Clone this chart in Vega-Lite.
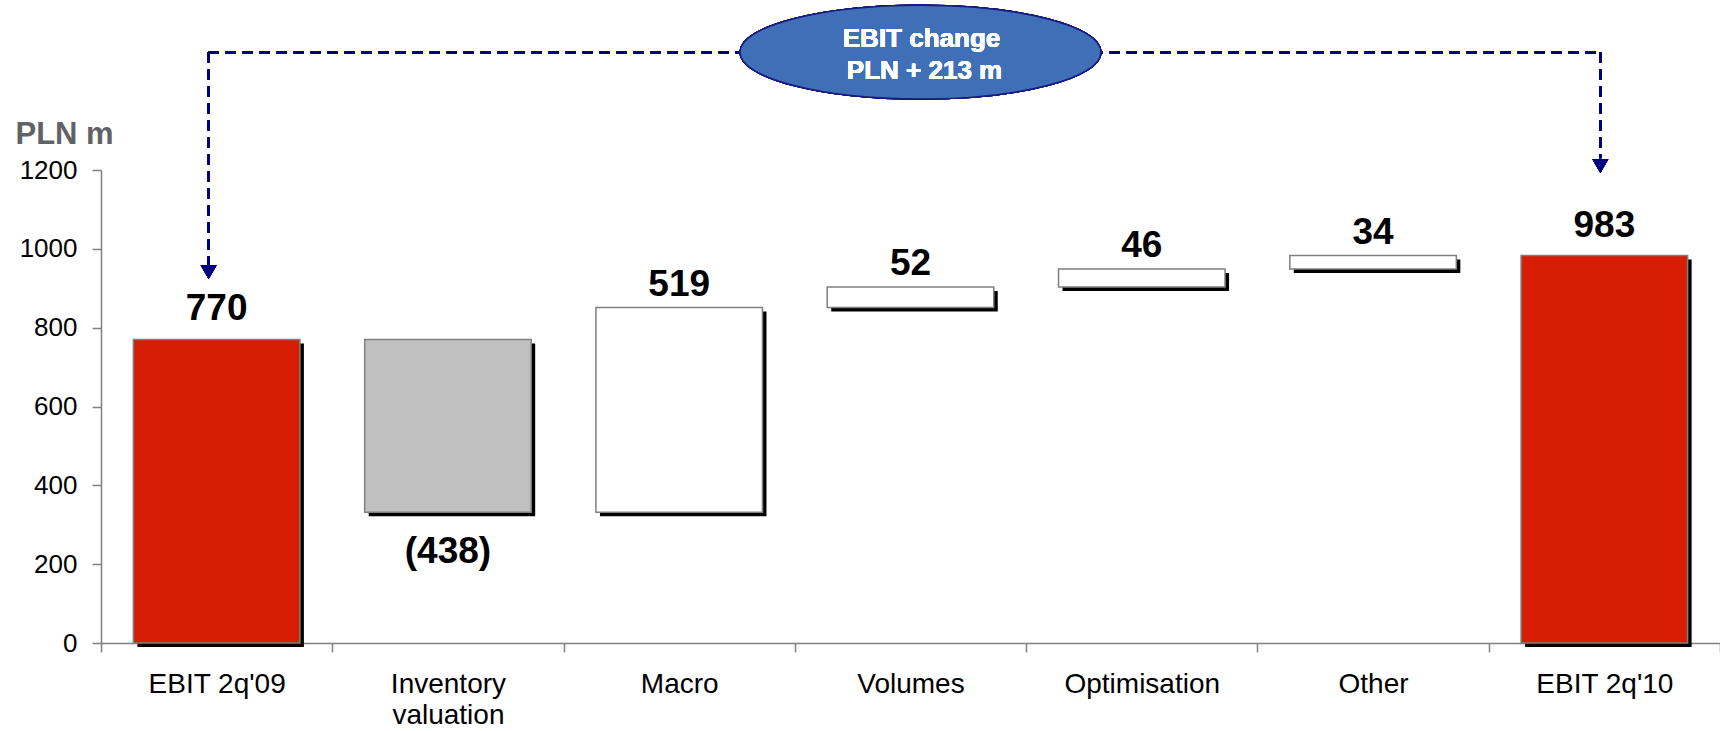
{
  "$schema": "https://vega.github.io/schema/vega-lite/v6.json",
  "width": 1619,
  "height": 473,
  "autosize": {"type": "none"},
  "padding": {"left": 101, "top": 170, "right": 0, "bottom": 88},
  "background": "white",
  "config": {"view": {"stroke": null}, "font": "Liberation Sans"},
  "data": {"values": [
    {"category": "EBIT 2q'09", "lo": 0, "hi": 770, "kind": "total", "label": "770"},
    {"category": "Inventory valuation", "lo": 332, "hi": 770, "kind": "decrease", "label": "(438)"},
    {"category": "Macro", "lo": 332, "hi": 851, "kind": "increase", "label": "519"},
    {"category": "Volumes", "lo": 851, "hi": 903, "kind": "increase", "label": "52"},
    {"category": "Optimisation", "lo": 903, "hi": 949, "kind": "increase", "label": "46"},
    {"category": "Other", "lo": 949, "hi": 983, "kind": "increase", "label": "34"},
    {"category": "EBIT 2q'10", "lo": 0, "hi": 983, "kind": "total", "label": "983"}
  ]},
  "layer": [
    {
      "mark": {"type": "bar", "color": "black", "width": {"band": 0.72}, "xOffset": 4, "yOffset": 4, "y2Offset": 4},
      "encoding": {
        "x": {"field": "category", "type": "nominal", "sort": null,
          "scale": {"domain": ["EBIT 2q'09", "Inventory valuation", "Macro", "Volumes", "Optimisation", "Other", "EBIT 2q'10"], "paddingInner": 0, "paddingOuter": 0},
          "axis": {"title": null, "labelAngle": 0, "labelFontSize": 28, "labelColor": "black", "labelPadding": 18, "tickSize": 9, "tickBand": "extent",
            "domainColor": "#808080", "tickColor": "#808080", "domainWidth": 1.5, "tickWidth": 1.5, "labelLineHeight": 31, "labelOverlap": false, "labelFlush": false, "labelLimit": 0,
            "labelExpr": "datum.value == 'Inventory valuation' ? ['Inventory', 'valuation'] : datum.value"}},
        "y": {"field": "lo", "type": "quantitative", "scale": {"domain": [0, 1200], "nice": false},
          "axis": {"title": "PLN m", "titleAngle": 0, "titleAlign": "left", "titleBaseline": "alphabetic", "titleX": -86, "titleY": -27,
            "titleFontSize": 31, "titleFontWeight": "bold", "titleColor": "#5F6366", "format": "d",
            "values": [0, 200, 400, 600, 800, 1000, 1200], "labelFontSize": 26, "labelColor": "black", "labelPadding": 15, "tickSize": 9, "grid": false,
            "domainColor": "#808080", "tickColor": "#808080", "domainWidth": 1.5, "tickWidth": 1.5}},
        "y2": {"field": "hi"}
      }
    },
    {
      "mark": {"type": "bar", "width": {"band": 0.72}, "stroke": "#7F7F7F", "strokeWidth": 1.5},
      "encoding": {
        "x": {"field": "category", "type": "nominal", "sort": null},
        "y": {"field": "lo", "type": "quantitative"},
        "y2": {"field": "hi"},
        "fill": {"field": "kind", "type": "nominal", "legend": null,
          "scale": {"domain": ["total", "decrease", "increase"], "range": ["#D71E04", "#C0C0C0", "#FFFFFF"]}}
      }
    },
    {
      "transform": [{"filter": "datum.kind == 'total'"}],
      "mark": {"type": "text", "fontSize": 37, "fontWeight": "bold", "color": "black", "baseline": "alphabetic", "dy": -19},
      "encoding": {
        "x": {"field": "category", "type": "nominal", "sort": null},
        "y": {"field": "hi", "type": "quantitative"},
        "text": {"field": "label"}
      }
    },
    {
      "transform": [{"filter": "datum.kind == 'increase'"}],
      "mark": {"type": "text", "fontSize": 37, "fontWeight": "bold", "color": "black", "baseline": "alphabetic", "dy": -12},
      "encoding": {
        "x": {"field": "category", "type": "nominal", "sort": null},
        "y": {"field": "hi", "type": "quantitative"},
        "text": {"field": "label"}
      }
    },
    {
      "transform": [{"filter": "datum.kind == 'decrease'"}],
      "mark": {"type": "text", "fontSize": 37, "fontWeight": "bold", "color": "black", "baseline": "alphabetic", "dy": 51},
      "encoding": {
        "x": {"field": "category", "type": "nominal", "sort": null},
        "y": {"field": "lo", "type": "quantitative"},
        "text": {"field": "label"}
      }
    },
    {
      "mark": {"type": "rule", "color": "#000080", "strokeWidth": 2.5, "strokeDash": [10, 7], "xOffset": -8, "x2Offset": -4},
      "encoding": {
        "x": {"datum": "EBIT 2q'09", "type": "nominal"},
        "x2": {"datum": "EBIT 2q'10"},
        "y": {"datum": 1498, "type": "quantitative"}
      }
    },
    {
      "mark": {"type": "rule", "color": "#000080", "strokeWidth": 2.5, "strokeDash": [10, 7], "xOffset": -8},
      "encoding": {
        "x": {"datum": "EBIT 2q'09", "type": "nominal"},
        "y": {"datum": 1498, "type": "quantitative"},
        "y2": {"datum": 960}
      }
    },
    {
      "mark": {"type": "rule", "color": "#000080", "strokeWidth": 2.5, "strokeDash": [10, 7], "xOffset": -4},
      "encoding": {
        "x": {"datum": "EBIT 2q'10", "type": "nominal"},
        "y": {"datum": 1498, "type": "quantitative"},
        "y2": {"datum": 1230}
      }
    },
    {
      "mark": {"type": "point", "shape": "triangle-down", "size": 256, "filled": true, "color": "#000080", "opacity": 1, "xOffset": -8},
      "encoding": {
        "x": {"datum": "EBIT 2q'09", "type": "nominal"},
        "y": {"datum": 941, "type": "quantitative"}
      }
    },
    {
      "mark": {"type": "point", "shape": "triangle-down", "size": 256, "filled": true, "color": "#000080", "opacity": 1, "xOffset": -4},
      "encoding": {
        "x": {"datum": "EBIT 2q'10", "type": "nominal"},
        "y": {"datum": 1210, "type": "quantitative"}
      }
    },
    {
      "mark": {"type": "point", "shape": "M -1 0 C -1 -0.1436 -0.5523 -0.26 0 -0.26 C 0.5523 -0.26 1 -0.1436 1 0 C 1 0.1436 0.5523 0.26 0 0.26 C -0.5523 0.26 -1 0.1436 -1 0 Z",
        "size": 130321, "filled": true, "fill": "#3F70B7", "stroke": "#1A1A80", "strokeWidth": 1.5, "opacity": 1, "fillOpacity": 1, "xOffset": 10},
      "encoding": {
        "x": {"datum": "Volumes", "type": "nominal"},
        "y": {"datum": 1499, "type": "quantitative"}
      }
    },
    {
      "mark": {"type": "text", "fontSize": 26, "fontWeight": "bold", "color": "white", "baseline": "alphabetic", "xOffset": 11},
      "encoding": {
        "x": {"datum": "Volumes", "type": "nominal"},
        "y": {"datum": 1512, "type": "quantitative"},
        "text": {"value": "EBIT change"}
      }
    },
    {
      "mark": {"type": "text", "fontSize": 26, "fontWeight": "bold", "color": "white", "baseline": "alphabetic", "xOffset": 14},
      "encoding": {
        "x": {"datum": "Volumes", "type": "nominal"},
        "y": {"datum": 1431, "type": "quantitative"},
        "text": {"value": "PLN + 213 m"}
      }
    }
  ]
}
